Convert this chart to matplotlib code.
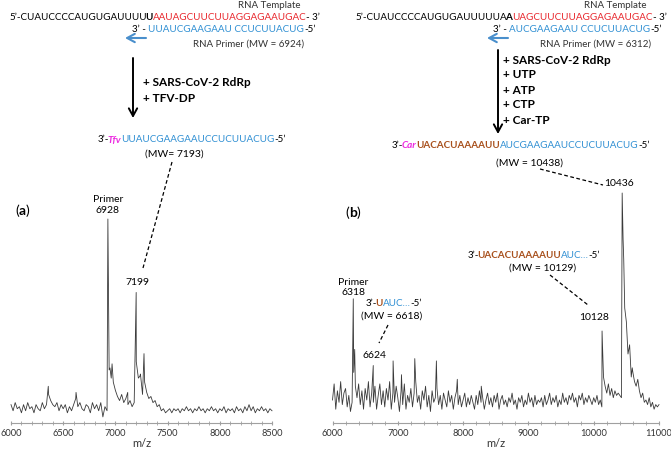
import matplotlib
matplotlib.use('Agg')
import matplotlib.pyplot as plt
from matplotlib.ticker import MultipleLocator
import numpy as np

W, H = 671, 449
FONT = ['Lato', 'DejaVu Sans']
P = '\u2019'  # prime-like quote used in the sequences

RED = '#e8262c'
BLUE = '#2f8fd3'
PINK = '#ec2ae0'
BROWN = '#a8501c'
GREY = '#333333'

# panel (a): baseline every 20 m/z from 6000 to 8500, relative intensity %
a_mz = np.arange(6000, 8501, 20)
a_noise = [9, 6, 10, 7, 8, 5, 9, 6, 10, 7, 8, 5, 9, 7, 6, 10, 7, 9, 14, 11,
           9, 8, 10, 6, 9, 7, 9, 5, 8, 6, 9, 12, 8, 10, 7, 6, 9, 8, 5, 10,
           7, 9, 6, 10, 3, 8, 6, 26, 22, 20, 16, 13, 11, 14, 10, 12, 9, 11, 8, 10,
           30, 22, 24, 14, 20, 15, 12, 13, 10, 11, 8, 9, 6, 7, 5, 6, 7, 5, 7, 6,
           7, 5, 7, 6, 8, 6, 7, 5, 7, 6, 8, 6, 7, 5, 7, 6, 8, 6, 7, 5,
           7, 6, 8, 5, 7, 6, 7, 5, 8, 6, 7, 5, 8, 6, 9, 6, 8, 5, 7, 6,
           8, 6, 7, 5, 7, 6]
a_peak_mz = [6357, 6623, 6928, 6948, 6968, 7118, 7199, 7235, 7274]
a_peak_int = [18, 15, 100, 27, 29, 15, 64, 23, 34]

# panel (b): baseline every 25 m/z from 6000 to 11000
b_mz = np.arange(6000, 11001, 25)
b_noise = [10, 17, 6, 14, 9, 18, 8, 13,
           15, 7, 12, 5, 9, 22, 16, 11,
           17, 8, 14, 6, 15, 10, 18, 7,
           13, 9, 16, 6, 12, 17, 8, 14,
           7, 15, 10, 18, 6, 13, 9, 16,
           11, 5, 14, 8, 17, 6, 12, 9,
           15, 7, 13, 18, 9, 12, 6, 14,
           10, 16, 7, 12, 5, 14, 9, 11,
           15, 8, 12, 6, 13, 10, 7, 14,
           9, 12, 6, 11, 14, 8, 12, 7,
           10, 13, 7, 11, 8, 12, 9, 6,
           12, 8, 14, 9, 11, 6, 10, 13,
           8, 11, 7, 12, 9, 13, 6, 10,
           12, 8, 10, 7, 11, 9, 13, 8,
           10, 6, 11, 9, 12, 7, 10, 8,
           13, 9, 11, 7, 12, 8, 10, 9,
           11, 7, 12, 8, 10, 13, 8, 11,
           9, 12, 7, 10, 8, 13, 9, 11,
           8, 12, 10, 13, 9, 11, 7, 12,
           10, 13, 8, 11, 9, 12, 10, 8,
           11, 9, 12, 8, 10, 7, 20, 16,
           13, 17, 12, 15, 11, 14, 12, 13,
           12, 11, 80, 50, 44, 30, 34, 20,
           22, 18, 16, 19, 14, 11, 13, 9,
           10, 8, 11, 7, 9, 6, 8, 7,
           8]
b_peak_mz = [6318, 6340, 6624, 6928, 7056, 7260, 7591, 7911, 8278, 10128, 10436, 10460, 10590]
b_peak_int = [54, 32, 25, 27, 21, 28, 27, 19, 16, 40, 100, 71, 24]


def trace(mz, noise, pk_mz, pk_int):
    x = np.concatenate([mz, pk_mz])
    y = np.concatenate([noise, pk_int])
    order = np.argsort(x, kind='stable')
    return x[order], y[order]


fig = plt.figure(figsize=(W / 100, H / 100), dpi=100)
fig.patch.set_facecolor('white')


def spectrum(rect, x, y, xlim, major, minor):
    ax = fig.add_axes(rect)
    ax.plot(x, y, color='#3a3a3a', lw=0.6, clip_on=False)
    ax.set_xlim(*xlim)
    ax.set_ylim(0, 100)
    for s in ['top', 'right', 'left']:
        ax.spines[s].set_visible(False)
    ax.spines['bottom'].set_color('#a0a0a0')
    ax.set_yticks([])
    ax.xaxis.set_major_locator(MultipleLocator(major))
    ax.xaxis.set_minor_locator(MultipleLocator(minor))
    ax.tick_params(axis='x', which='both', direction='inout', color='#a0a0a0',
                   length=3, labelsize=6.7, labelcolor=GREY, pad=3)
    for lab in ax.get_xticklabels():
        lab.set_family(FONT)
    ax.set_xlabel('m/z', fontsize=8, color=GREY, family=FONT, labelpad=0)
    ax.patch.set_alpha(0)
    return ax


ax_a = spectrum([11 / W, 1 - 423 / H, 261 / W, 204 / H],
                *trace(a_mz, a_noise, a_peak_mz, a_peak_int), (6000, 8500), 500, 100)
ax_b = spectrum([332.5 / W, 1 - 423 / H, 326.5 / W, 230 / H],
                *trace(b_mz, b_noise, b_peak_mz, b_peak_int), (6000, 11000), 1000, 200)

# peak labels
def plabel(ax, mz, val, txt, dx=0, dy=7.5, va='center'):
    ax.annotate(txt, xy=(mz, val), xytext=(dx, dy), textcoords='offset points',
                ha='center', va=va, fontsize=7.5, color='black', family=FONT,
                annotation_clip=False)

plabel(ax_a, 6928, 100, 'Primer\n6928', dy=3, va='bottom')
plabel(ax_a, 7199, 64, '7199', dx=1)
plabel(ax_b, 6318, 54, 'Primer\n6318', dy=1, va='bottom')
plabel(ax_b, 6624, 25, '6624', dx=1, dy=7)
plabel(ax_b, 10128, 40, '10128', dx=-6, dy=10)
plabel(ax_b, 10436, 100, '10436', dx=-2, dy=6.5)

# overlay in pixel units for schemes
ov = fig.add_axes([0, 0, 1, 1], zorder=5)
ov.set_xlim(0, W)
ov.set_ylim(H, 0)
ov.axis('off')
rend = fig.canvas.get_renderer()


def seq(x, y, parts, size=7.1):
    prev = None
    for p in parts:
        s, color = p[0], p[1]
        bold = 'b' in p[2:]
        # bold face leaves a gap after a plain segment; pull it back
        if bold and prev is not None and not prev[0] and not prev[1].endswith('('):
            x -= 2.2
        prev = (bold, s)
        t = ov.text(x, y, s, color=color, fontsize=size,
                    fontweight='bold' if bold else 'normal',
                    fontstyle='italic' if 'i' in p[2:] else 'normal',
                    va='center', ha='left', family=FONT)
        x += t.get_window_extent(rend).width


def ctext(x, y, s, size=7.5, color='black', weight='normal'):
    ov.text(x, y, s, fontsize=size, color=color, ha='center', va='center',
            family=FONT, fontweight=weight)


def dash(xs, ys):
    ov.plot(xs, ys, color='black', lw=0.9, ls=(0, (3, 2)))


def arrow(x0, y0, x1, y1, color='black', lw=1.4):
    ov.annotate('', xy=(x1, y1), xytext=(x0, y0),
                arrowprops=dict(arrowstyle='->,head_width=0.3,head_length=0.55',
                                color=color, lw=lw, shrinkA=0, shrinkB=0))


# ---- panel (a) scheme
ctext(269, 6, 'RNA Template', 7, GREY)
seq(10, 17, [('5' + P + '-CUAUCCCCAUGUGAUUUU', 'black'), ('U', 'black', 'b'),
             ('AAUAGCUUCUUAGGAGAAUGAC', RED), ('- 3' + P, 'black')])
seq(132, 30, [('3' + P + ' - ', 'black'), ('UUAUCGAAGAAU CCUCUUACUG', BLUE), ('-5' + P, 'black')])
arrow(146, 38, 125, 38, '#4a8fcc', 1.5)
ctext(249, 44, 'RNA Primer (MW = 6924)', 7, GREY)
arrow(133, 58, 133, 118)
seq(143, 83, [('+ SARS-CoV-2 RdRp', 'black', 'b')], 8.5)
seq(143, 99, [('+ TFV-DP', 'black', 'b')], 8.5)
seq(98, 140, [('3' + P + '-', 'black'), ('Tfv', PINK, 'b', 'i'),
              ('UUAUCGAAGAAUCCUCUUACUG', BLUE), ('-5' + P, 'black')])
ctext(174, 154, '(MW= 7193)')
dash([172, 143], [162, 268])
seq(15, 211, [('(', 'black'), ('a', 'black', 'b'), (')', 'black')], 10)

# ---- panel (b) scheme
ctext(615, 6, 'RNA Template', 7, GREY)
seq(356, 17, [('5' + P + '-CUAUCCCCAUGUGAUUUUUA', 'black'), ('A', 'black', 'b'),
              ('UAGCUUCUUAGGAGAAUGAC', RED), ('- 3' + P, 'black')])
seq(493, 30, [('3' + P + ' - ', 'black'), ('AUCGAAGAAU CCUCUUACUG', BLUE), ('-5' + P, 'black')])
arrow(508, 38, 487, 38, '#4a8fcc', 1.5)
ctext(596, 44, 'RNA Primer (MW = 6312)', 7, GREY)
arrow(498, 50, 498, 134)
for i, s in enumerate(['+ SARS-CoV-2 RdRp', '+ UTP', '+ ATP', '+ CTP', '+ Car-TP']):
    seq(503, 60 + 15 * i, [(s, 'black', 'b')], 8.5)
seq(392, 145, [('3' + P + '-', 'black'), ('Car', PINK, 'b', 'i'), ('UACACUAAAAUU', BROWN, 'b'),
               ('AUCGAAGAAUCCUCUUACUG', BLUE), ('-5' + P, 'black')])
ctext(529, 163, '(MW = 10438)')
dash([540, 603], [169, 185])
seq(345, 213, [('(', 'black'), ('b', 'black', 'b'), (')', 'black')], 10)

seq(468, 255, [('3' + P + '-', 'black'), ('UACACUAAAAUU', BROWN, 'b'),
               ('AUC\u2026', BLUE), ('-5' + P, 'black')])
ctext(543, 268, '(MW = 10129)')
dash([550, 588], [275, 305])

seq(366, 303, [('3' + P + '-', 'black'), ('U', BROWN, 'b'), ('AUC\u2026', BLUE), ('-5' + P, 'black')])
ctext(392, 316, '(MW = 6618)')
dash([388, 379], [325, 343])

fig.savefig('out.png', dpi=100)
